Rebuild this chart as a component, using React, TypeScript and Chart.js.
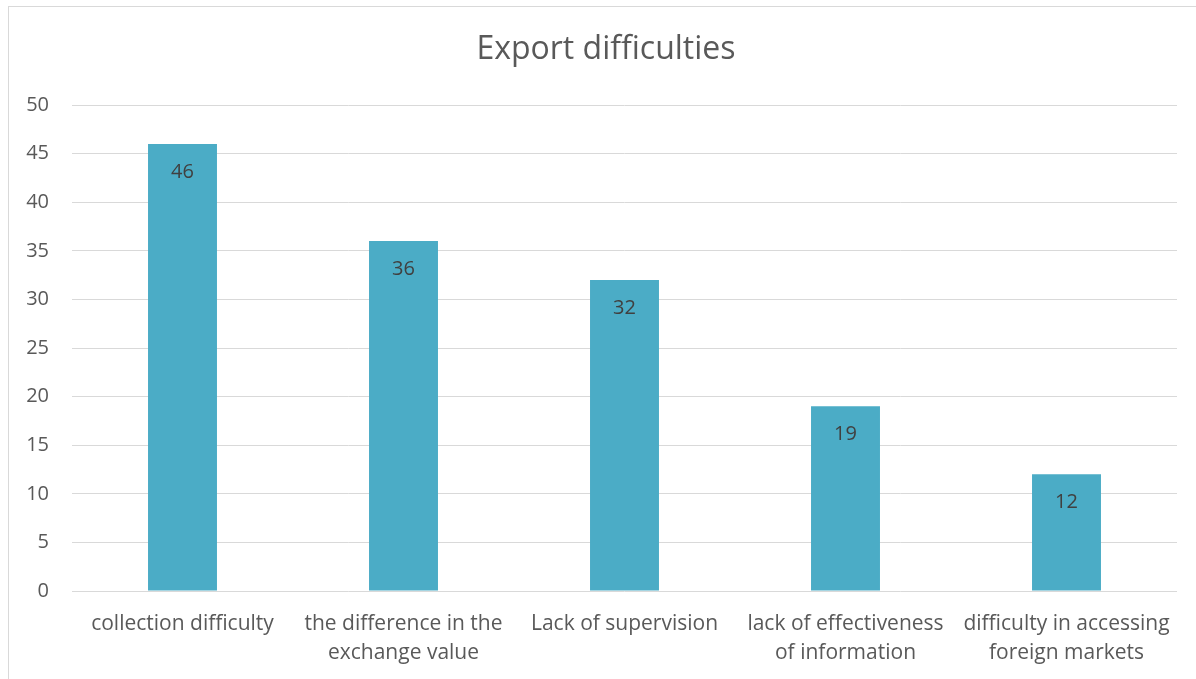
import React, { useEffect, useRef } from "react";
import { Chart, registerables } from "chart.js";

Chart.register(...registerables);

const chartTitle = "Export difficulties";
const categories: (string | string[])[] = [
  "collection difficulty",
  ["the difference in the", "exchange value"],
  "Lack of supervision",
  ["lack of effectiveness", "of information"],
  ["difficulty in accessing", "foreign markets"],
];
const values = [46, 36, 32, 19, 12];
const yMax = 50;
const yStep = 5;

const FONT = "'Open Sans', sans-serif";
const TEXT = "#595959";

// Value labels drawn inside the top end of each bar
const valueLabels = {
  id: "valueLabels",
  afterDatasetsDraw(chart: Chart) {
    const { ctx } = chart;
    const meta = chart.getDatasetMeta(0);
    ctx.save();
    ctx.font = `20px ${FONT}`;
    ctx.fillStyle = "#404040";
    ctx.textAlign = "center";
    ctx.textBaseline = "middle";
    meta.data.forEach((bar: any, i: number) => {
      ctx.fillText(String(values[i]), bar.x, bar.y + 28);
    });
    ctx.restore();
  },
};

// Title centred on the whole chart frame rather than the plot area
const centeredTitle = {
  id: "centeredTitle",
  afterDraw(chart: Chart) {
    const { ctx } = chart;
    ctx.save();
    ctx.font = `32px ${FONT}`;
    ctx.fillStyle = TEXT;
    ctx.textAlign = "center";
    ctx.textBaseline = "middle";
    ctx.fillText(chartTitle, chart.width / 2, 44);
    ctx.restore();
  },
};

export default function App() {
  const canvasRef = useRef<HTMLCanvasElement | null>(null);

  useEffect(() => {
    if (!canvasRef.current) return;
    const chart = new Chart(canvasRef.current, {
      type: "bar",
      data: {
        labels: categories,
        datasets: [
          {
            data: values,
            backgroundColor: "#4BACC6",
            borderWidth: 0,
            categoryPercentage: 1,
            barPercentage: 0.312,
          },
        ],
      },
      options: {
        animation: false,
        responsive: false,
        maintainAspectRatio: false,
        layout: { padding: { left: 0, right: 27, top: 99, bottom: 15 } },
        plugins: {
          legend: { display: false },
          tooltip: { enabled: false },
          title: { display: false },
        },
        scales: {
          x: {
            grid: { display: false, drawTicks: false },
            border: { display: false },
            ticks: {
              color: TEXT,
              font: { family: FONT, size: 21, lineHeight: 1.4 },
              padding: 18,
              maxRotation: 0,
              autoSkip: false,
            },
            afterFit(scale: any) {
              scale.height = 100;
            },
          },
          y: {
            min: 0,
            max: yMax,
            ticks: {
              stepSize: yStep,
              color: TEXT,
              font: { family: FONT, size: 20 },
              padding: 23,
            },
            grid: { color: "#d9d9d9", lineWidth: 1, drawTicks: false },
            border: { display: false },
            afterFit(scale: any) {
              scale.width = 64;
            },
          },
        },
      },
      plugins: [valueLabels, centeredTitle],
    });
    return () => chart.destroy();
  }, []);

  return (
    <div
      style={{
        position: "fixed",
        inset: 0,
        overflow: "hidden",
        background: "#fff",
      }}
    >
      <div
        style={{
          position: "absolute",
          left: 8,
          top: 6,
          width: 1300,
          height: 800,
          border: "1px solid #d9d9d9",
        }}
      />
      <canvas
        ref={canvasRef}
        width={1196}
        height={700}
        style={{ position: "absolute", left: 8, top: 6, width: 1196, height: 700 }}
      />
    </div>
  );
}
